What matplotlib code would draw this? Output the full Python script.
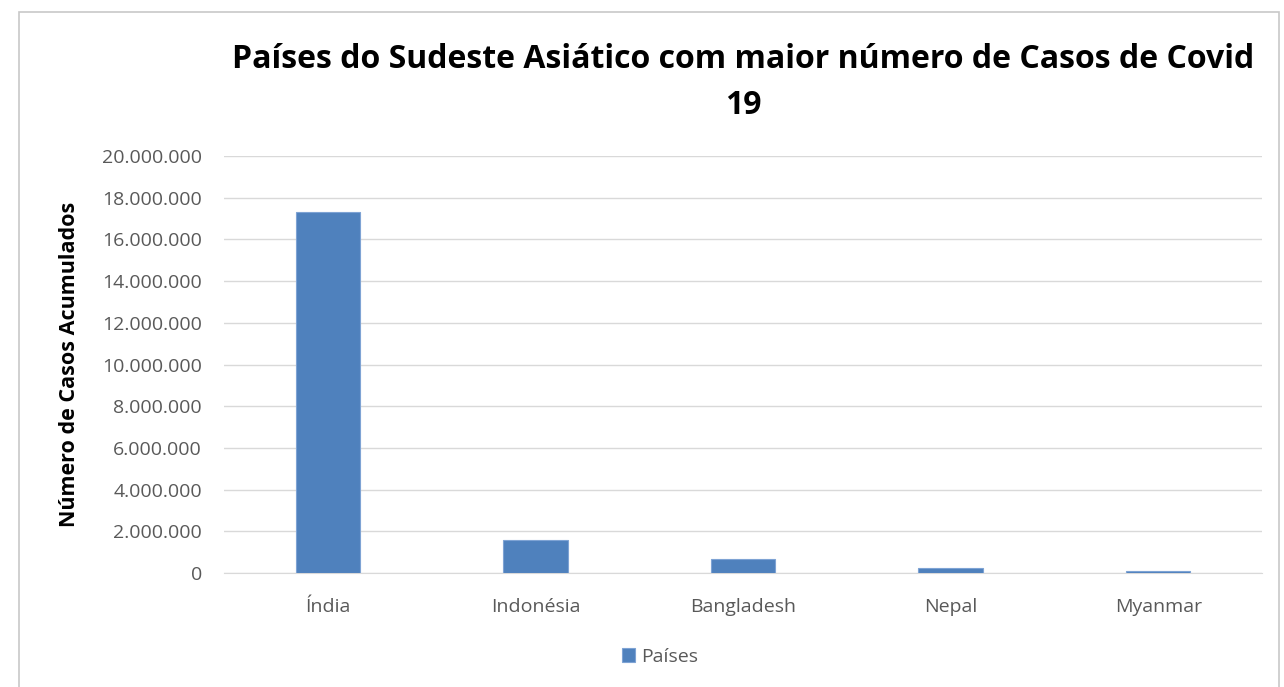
import matplotlib
matplotlib.use("Agg")
import matplotlib.pyplot as plt
from matplotlib.patches import Rectangle
from matplotlib.ticker import FuncFormatter

plt.rcParams['font.family'] = ['Open Sans', 'DejaVu Sans']

paises = ['Índia', 'Indonésia', 'Bangladesh', 'Nepal', 'Myanmar']
casos = [17300000, 1600000, 690000, 260000, 115000]
yticks = list(range(0, 20000001, 2000000))

fig = plt.figure(figsize=(12.84, 6.87), dpi=100)
ax = fig.add_axes([224 / 1284, 1 - 573 / 687, (1262 - 224) / 1284, (573 - 156) / 687])

# moldura do gráfico
fig.patches.append(Rectangle((19 / 1284, -0.01), (1279 - 19) / 1284, 1 - 12 / 687 + 0.01,
                             transform=fig.transFigure, fill=False, edgecolor='#c8c8c8',
                             linewidth=1.2))

x = range(len(paises))
ax.bar(x, casos, width=0.31, color='#4f81bd', edgecolor='#7ea3d4', linewidth=0.8,
       label='Países', zorder=3)

ax.set_xlim(-0.5, len(paises) - 0.5)
ax.set_ylim(0, 20000000)
ax.set_yticks(yticks)
ax.yaxis.set_major_formatter(FuncFormatter(lambda v, p: f'{int(v):,}'.replace(',', '.')))
ax.set_xticks(list(x))
ax.set_xticklabels(paises)
ax.grid(axis='y', color='#d9d9d9', linewidth=1, zorder=0)
for s in ['top', 'right', 'left']:
    ax.spines[s].set_visible(False)
ax.spines['bottom'].set_color('#d9d9d9')
ax.tick_params(axis='both', length=0, labelsize=14, colors='#595959')
ax.tick_params(axis='y', pad=16)
ax.tick_params(axis='x', pad=18)

ax.set_ylabel('Número de Casos Acumulados', fontsize=15.5, fontweight='bold', color='black',
              labelpad=16)

fig.text(743 / 1284, 1 - 60 / 687, 'Países do Sudeste Asiático com maior número de Casos de Covid',
         ha='center', va='center', fontsize=23, fontweight='bold')
fig.text(743 / 1284, 1 - 105 / 687, '19', ha='center', va='center', fontsize=23,
         fontweight='bold')

ax.legend(loc='center', bbox_to_anchor=(660 / 1284, 1 - 657 / 687), bbox_transform=fig.transFigure,
          frameon=False, fontsize=14, handlelength=0.7, handleheight=0.7, handletextpad=0.3,
          labelcolor='#595959')

fig.savefig('out.png', dpi=100)
